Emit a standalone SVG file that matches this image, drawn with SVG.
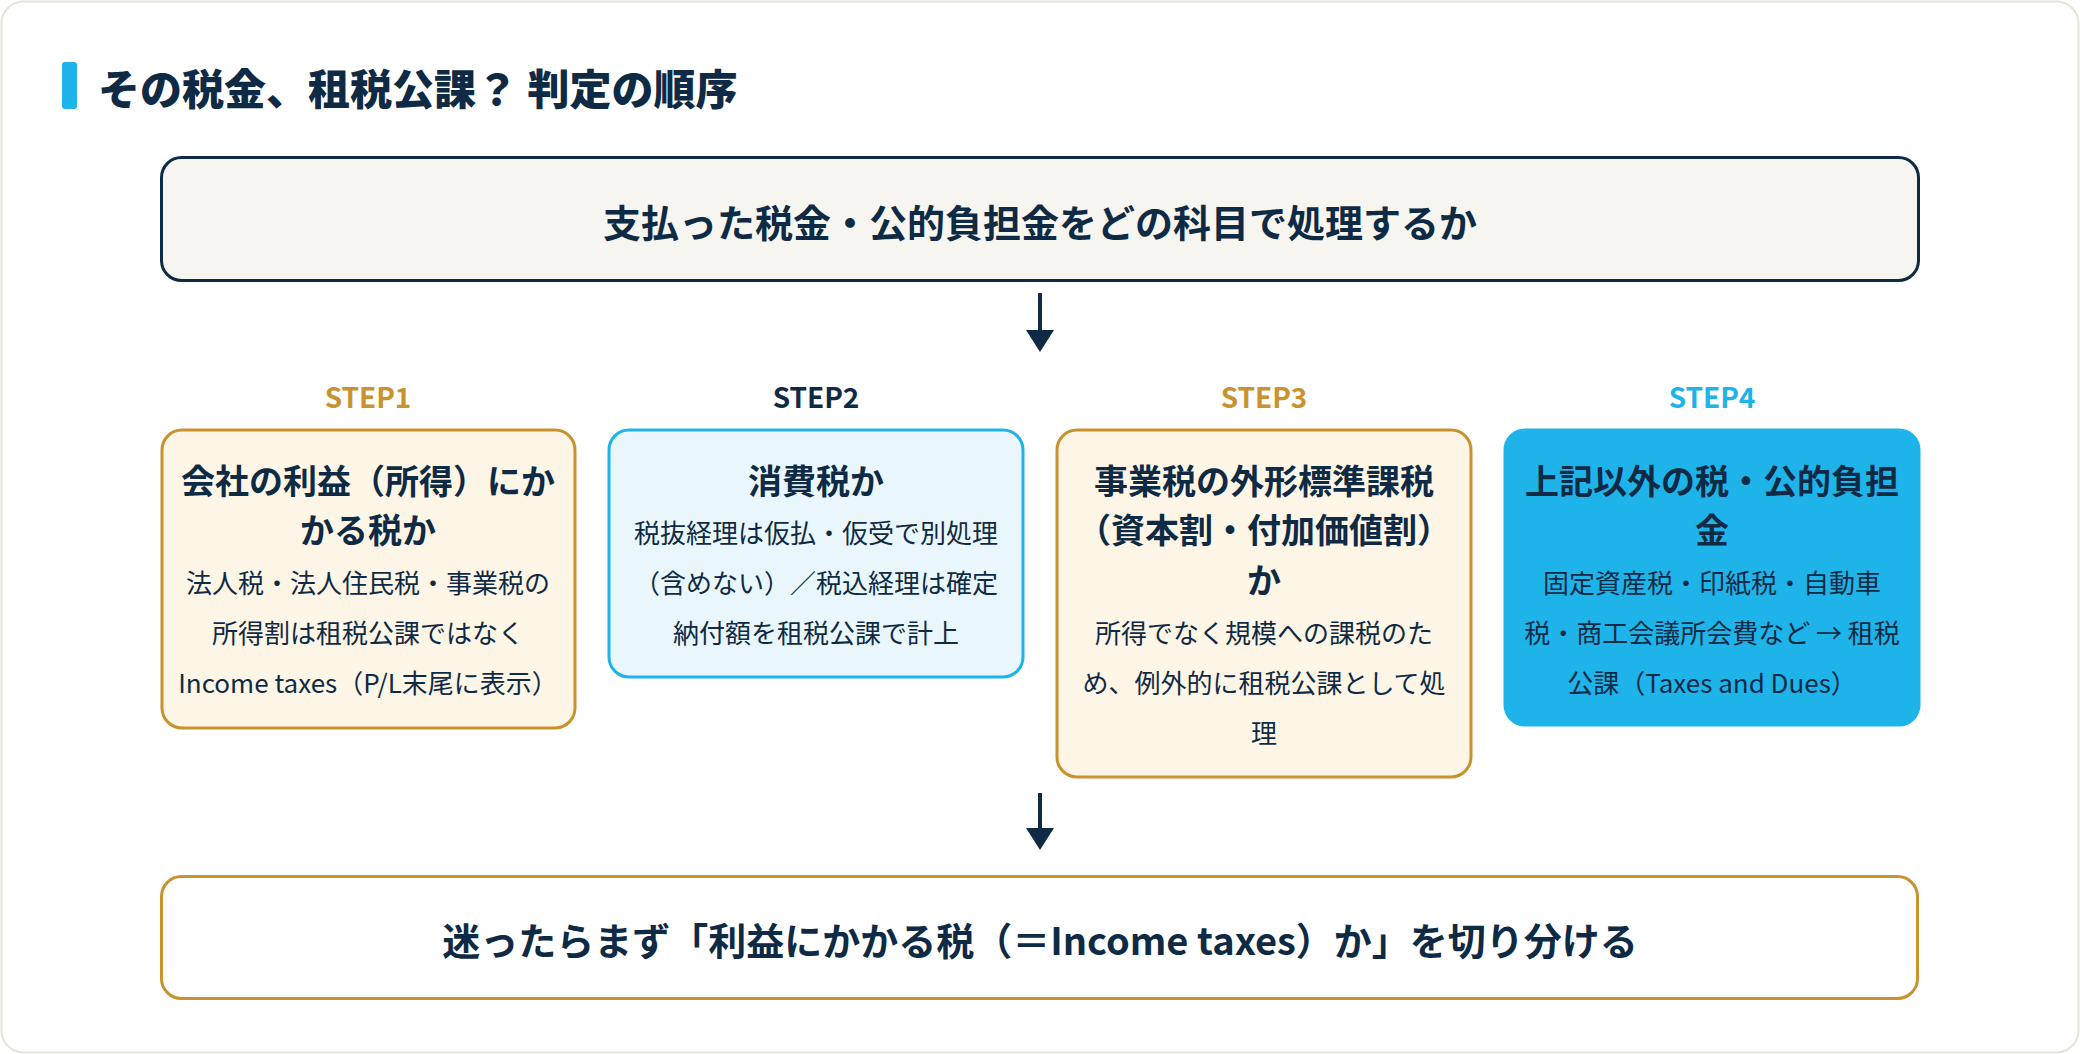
<svg xmlns="http://www.w3.org/2000/svg" width="2080" height="1054" viewBox="0 0 2080 1054">
<style>
text{font-family:"Noto Sans CJK JP","Noto Sans",sans-serif;fill:#0f2a44;text-anchor:middle}
.h{font-size:38px;font-weight:700}
.t{font-size:34px;font-weight:700}
.b{font-size:26px;font-weight:400}
.s{font-size:28px;font-weight:700}
.gold{fill:#c8922e}
.cyan{fill:#1eb4ea}
.conn line{stroke:#0f2a44;stroke-width:4}
.conn polygon{fill:#0f2a44}
</style>
<rect x="1.5" y="1.5" width="2077" height="1051" rx="22" fill="#ffffff" stroke="#e6e3d8" stroke-width="2"/>
<g id="title">
<rect x="62" y="62" width="15" height="47" rx="3" fill="#1eb4ea"/>
<text x="98" y="105" style="font-size:42px;font-weight:900;text-anchor:start">その税金、租税公課？ 判定の順序</text>
</g>
<g id="question">
<rect x="161.5" y="157.5" width="1757" height="123" rx="20" fill="#f6f5f0" stroke="#0f2a44" stroke-width="3"/>
<text class="h" x="1040" y="237">支払った税金・公的負担金をどの科目で処理するか</text>
</g>
<g id="step1">
<text class="s gold" x="368" y="408">STEP1</text>
<rect x="162" y="430" width="413" height="298" rx="20" fill="#fdf5e6" stroke="#c8922e" stroke-width="3"/>
<text class="t" x="368" y="494">会社の利益（所得）にか</text>
<text class="t" x="368" y="543">かる税か</text>
<text class="b" x="368" y="593">法人税・法人住民税・事業税の</text>
<text class="b" x="368" y="643">所得割は租税公課ではなく</text>
<text class="b" x="368" y="693">Income taxes（P/L末尾に表示）</text>
</g>
<g id="step2">
<text class="s" x="816" y="408">STEP2</text>
<rect x="609" y="430" width="414" height="247" rx="20" fill="#e9f7fd" stroke="#1eb4ea" stroke-width="3"/>
<text class="t" x="816" y="494">消費税か</text>
<text class="b" x="816" y="543">税抜経理は仮払・仮受で別処理</text>
<text class="b" x="816" y="593">（含めない）／税込経理は確定</text>
<text class="b" x="816" y="643">納付額を租税公課で計上</text>
</g>
<g id="step3">
<text class="s gold" x="1264" y="408">STEP3</text>
<rect x="1057" y="430" width="414" height="347" rx="20" fill="#fdf5e6" stroke="#c8922e" stroke-width="3"/>
<text class="t" x="1264" y="494">事業税の外形標準課税</text>
<text class="t" x="1264" y="543">（資本割・付加価値割）</text>
<text class="t" x="1264" y="593">か</text>
<text class="b" x="1264" y="643">所得でなく規模への課税のた</text>
<text class="b" x="1264" y="693">め、例外的に租税公課として処</text>
<text class="b" x="1264" y="743">理</text>
</g>
<g id="step4">
<text class="s cyan" x="1712" y="408">STEP4</text>
<rect x="1505" y="430" width="414" height="295" rx="20" fill="#1eb4ea" stroke="#1eb4ea" stroke-width="3"/>
<text class="t" x="1712" y="494">上記以外の税・公的負担</text>
<text class="t" x="1712" y="543">金</text>
<text class="b" x="1712" y="593">固定資産税・印紙税・自動車</text>
<text class="b" x="1712" y="643">税・商工会議所会費など → 租税</text>
<text class="b" x="1712" y="693">公課（Taxes and Dues）</text>
</g>
<g id="conclusion">
<rect x="161.5" y="876.5" width="1756" height="122" rx="20" fill="#ffffff" stroke="#c8922e" stroke-width="3"/>
<text class="h" x="1040" y="955">迷ったらまず「利益にかかる税（＝Income taxes）か」を切り分ける</text>
</g>
<g class="conn" id="connectors">
<line x1="1040" y1="293" x2="1040" y2="332"/>
<polygon points="1026,330 1054,330 1040,352"/>
<line x1="1040" y1="793" x2="1040" y2="830"/>
<polygon points="1026,828 1054,828 1040,850"/>
</g>
</svg>
